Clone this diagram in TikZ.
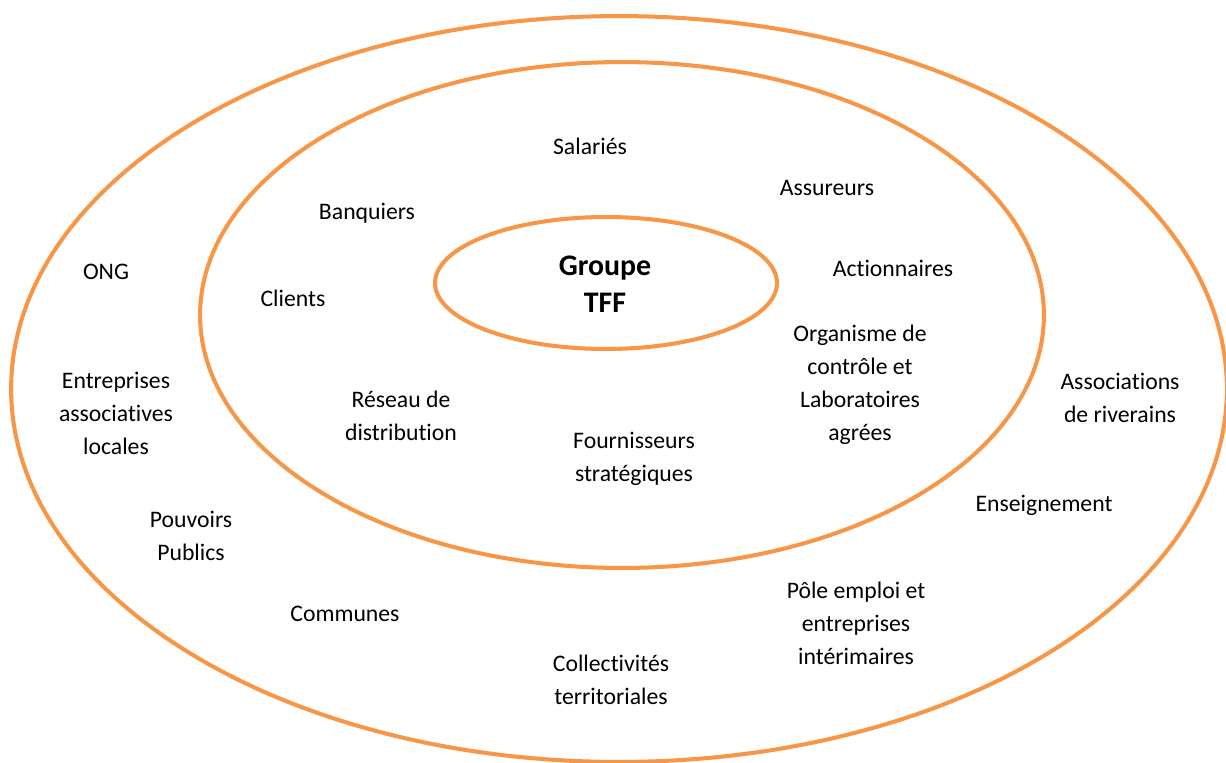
\documentclass[tikz,border=0pt]{standalone}
\usepackage{fontspec}
\setmainfont{Carlito}[Ligatures={NoCommon}]
\definecolor{ringorange}{HTML}{F79646}

\begin{document}
\begin{tikzpicture}[x=0.02cm,y=-0.02cm,
	ring/.style={draw=ringorange,line width=2.3pt},
	actor/.style={align=center,font=\fontsize{13.5}{18.8}\selectfont,inner sep=0pt}]
	\useasboundingbox (0,0) rectangle (1226,762);
	% les trois cercles
	\draw[ring] (619,389) ellipse [x radius=12.16cm, y radius=7.46cm];
	\draw[ring] (622,315) ellipse [x radius=8.44cm, y radius=5.06cm];
	\draw[ring] (606,283) ellipse [x radius=3.42cm, y radius=1.32cm];
	\node[align=center,inner sep=0pt,font=\fontsize{17}{21}\selectfont\bfseries] (tff) at (605,284) {Groupe\\TFF};
	% premier cercle
	\node[actor] (sal) at (590,146) {Salariés};
	\node[actor] (ass) at (827,188) {Assureurs};
	\node[actor] (ban) at (367,213) {Banquiers};
	\node[actor] (act) at (893,268) {Actionnaires};
	\node[actor] (cli) at (293,298) {Clients};
	\node[actor] (org) at (860,385) {Organisme de\\contrôle et\\Laboratoires\\agrées};
	\node[actor] (res) at (401,416) {Réseau de\\distribution};
	\node[actor] (fou) at (634,459) {Fournisseurs\\stratégiques};
	% second cercle
	\node[actor] (ong) at (106,272) {ONG};
	\node[actor] (ent) at (116,413) {Entreprises\\associatives\\locales};
	\node[actor] (riv) at (1120,398) {Associations\\de riverains};
	\node[actor] (ens) at (1044,505) {Enseignement};
	\node[actor] (pou) at (191,536) {Pouvoirs\\Publics};
	\node[actor] (com) at (345,614) {Communes};
	\node[actor] (pol) at (856,623) {Pôle emploi et\\entreprises\\intérimaires};
	\node[actor] (col) at (611,680) {Collectivités\\territoriales};
\end{tikzpicture}
\end{document}
